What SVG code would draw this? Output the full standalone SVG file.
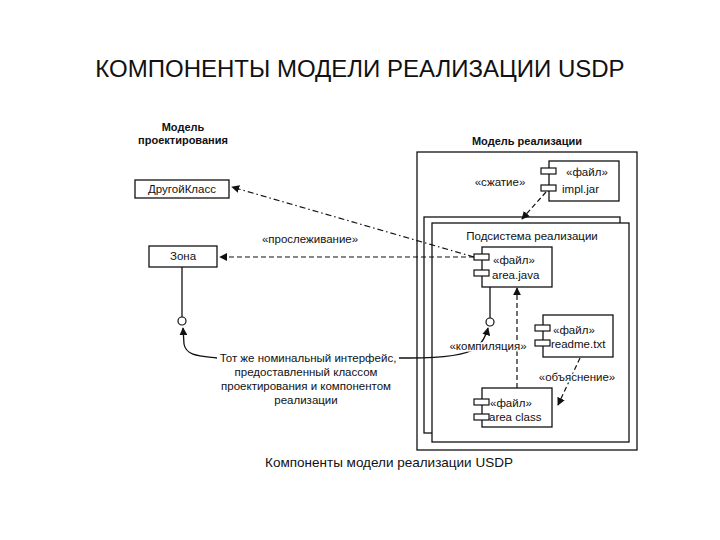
<svg xmlns="http://www.w3.org/2000/svg" width="720" height="540" viewBox="0 0 720 540">
<style>
.t{font-family:"Liberation Sans",Arial,sans-serif;fill:#111;}
.lbl{font-size:11.5px;}
.b{font-weight:bold;font-size:11px;}
.halo{stroke:#fff;stroke-width:3;paint-order:stroke;}
.box{fill:#fff;stroke:#111;stroke-width:1.3;}
.frame{fill:none;stroke:#111;stroke-width:1.3;}
.dash{fill:none;stroke:#111;stroke-width:1.2;stroke-dasharray:5,3;}
.dashdot{fill:none;stroke:#111;stroke-width:1.2;stroke-dasharray:6,3,1.5,3;}
.solid{fill:none;stroke:#111;stroke-width:1.3;}
.port{fill:#fff;stroke:#111;stroke-width:1.2;}
</style>
<defs>
<marker id="ah" viewBox="0 0 10 10" refX="9" refY="5" markerWidth="8" markerHeight="8" orient="auto" markerUnits="userSpaceOnUse">
<path d="M0,0 L10,5 L0,10 z" fill="#111"/>
</marker>
</defs>
<rect width="720" height="540" fill="#fff"/>
<text class="t" x="360" y="77" font-size="24" text-anchor="middle">КОМПОНЕНТЫ МОДЕЛИ РЕАЛИЗАЦИИ USDP</text>

<g id="design-model-label">
<text class="t b" x="183" y="131" text-anchor="middle">Модель</text>
<text class="t b" x="183" y="144" text-anchor="middle">проектирования</text>
</g>
<g id="other-class">
<rect class="box" x="135" y="180" width="94" height="18"/>
<text class="t lbl" x="182" y="193" text-anchor="middle">ДругойКласс</text>
</g>
<g id="zone">
<rect class="box" x="149" y="246" width="68" height="21"/>
<text class="t lbl" x="183" y="260" text-anchor="middle">Зона</text>
</g>

<g id="impl-model">
<text class="t b" x="527" y="145" text-anchor="middle">Модель  реализации</text>
<rect class="frame" x="417" y="152" width="220" height="298"/>
</g>
<g id="subsystem">
<rect class="box" x="424" y="217" width="196" height="216"/>
<rect class="box" x="432" y="223" width="197" height="219"/>
<text class="t lbl" x="532" y="240" text-anchor="middle">Подсистема реализации</text>
</g>

<g id="impl-jar">
<rect class="box" x="549" y="161" width="70" height="40"/>
<rect class="port" x="541" y="168" width="15" height="6"/>
<rect class="port" x="541" y="185" width="15" height="6"/>
<text class="t lbl" x="566" y="176">«файл»</text>
<text class="t lbl" x="562" y="193">impl.jar</text>
</g>
<g id="area-java">
<rect class="box" x="482" y="247" width="70" height="40"/>
<rect class="port" x="474" y="254" width="15" height="6"/>
<rect class="port" x="474" y="270" width="15" height="6"/>
<text class="t lbl" x="493" y="264">«файл»</text>
<text class="t lbl" x="492" y="279">area.java</text>
</g>
<g id="readme-txt">
<rect class="box" x="543" y="315" width="70" height="42"/>
<rect class="port" x="535" y="325" width="15" height="6"/>
<rect class="port" x="535" y="340" width="15" height="6"/>
<text class="t lbl" x="553" y="334">«файл»</text>
<text class="t lbl" x="551" y="348">readme.txt</text>
</g>
<g id="area-class">
<rect class="box" x="482" y="388" width="70" height="39"/>
<rect class="port" x="474" y="399" width="15" height="6"/>
<rect class="port" x="474" y="414" width="15" height="6"/>
<text class="t lbl" x="490" y="407">«файл»</text>
<text class="t lbl" x="489" y="421">area class</text>
</g>

<g id="note">
<text class="t lbl" x="308" y="362" text-anchor="middle">Тот же номинальный интерфейс,</text>
<text class="t lbl" x="306" y="376" text-anchor="middle">предоставленный классом</text>
<text class="t lbl" x="306" y="390" text-anchor="middle">проектирования и компонентом</text>
<text class="t lbl" x="306" y="404" text-anchor="middle">реализации</text>
</g>

<g id="connectors">
<path class="dashdot" d="M474,257 L232,187" marker-end="url(#ah)"/>
<path class="dash" d="M474,257 L220,257" marker-end="url(#ah)"/>
<text class="t lbl" x="310" y="243" text-anchor="middle">«прослеживание»</text>
<path class="dash" d="M546,192 L522,219" marker-end="url(#ah)"/>
<text class="t lbl" x="500" y="186" text-anchor="middle">«сжатие»</text>
<path class="dash" d="M517,388 L517,288" marker-end="url(#ah)"/>
<path class="dash" d="M580,358 L558,405" marker-end="url(#ah)"/>
<text class="t lbl halo" x="577" y="381" text-anchor="middle">«объяснение»</text>
<path class="solid" d="M182,267 L182,317"/>
<circle class="port" cx="182" cy="321" r="4"/>
<path class="solid" d="M490,287 L490,318"/>
<circle class="port" cx="490" cy="322" r="4"/>
<path class="solid" d="M217,358 C200,356 186,356 184,344 L183,328" marker-end="url(#ah)"/>
<path class="solid" d="M399,358 L410,358 C440,358 465,356 476,348 C483,342 486,336 488,328" marker-end="url(#ah)"/>
<text class="t lbl halo" x="488" y="350" text-anchor="middle">«компиляция»</text>
</g>

<text class="t" x="389" y="467" font-size="13.5" text-anchor="middle">Компоненты модели реализации USDP</text>
</svg>
